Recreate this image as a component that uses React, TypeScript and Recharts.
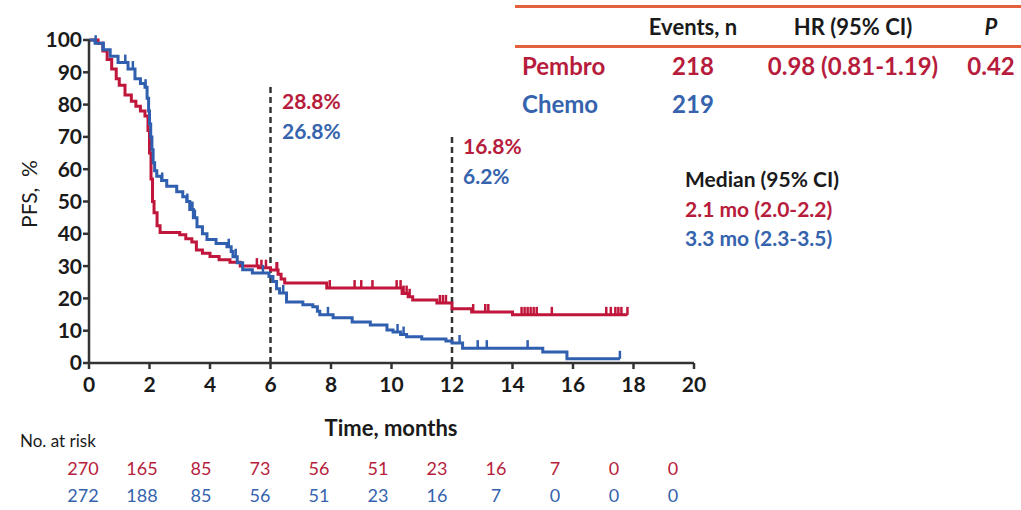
import React from "react";
import {
  ComposedChart,
  Line,
  Scatter,
  XAxis,
  YAxis,
  ReferenceLine,
} from "recharts";

// Kaplan-Meier steps: time (months) and PFS (%)
const pembroTimes = [0, 0.3, 0.46, 0.6, 0.75, 0.9, 1.0, 1.19, 1.4, 1.55, 1.7, 1.85, 1.95, 2.0, 2.05, 2.1, 2.15, 2.25, 2.35, 3.0, 3.2, 3.4, 3.55, 3.75, 4.0, 4.3, 4.66, 5.0, 5.6, 6.0, 6.25, 6.35, 6.47, 7.86, 10.35, 10.55, 10.7, 11.5, 12.0, 12.65, 14.0, 17.8];
const pembroPfs = [100, 99, 96.6, 94, 91, 88, 86, 83, 81, 79.5, 78, 76.5, 72, 65, 57, 50, 46.5, 42.5, 40.4, 39.7, 38.5, 37.5, 35, 34, 33, 32, 31.2, 30, 29.5, 28.8, 27.5, 26, 24.8, 23.2, 21.5, 20.5, 19.5, 18.6, 16.8, 15.8, 14.9, 14.9];

const chemoTimes = [0, 0.2, 0.46, 0.7, 0.96, 1.29, 1.52, 1.7, 1.85, 1.92, 1.97, 2.0, 2.04, 2.08, 2.12, 2.17, 2.24, 2.4, 2.57, 2.9, 3.1, 3.23, 3.33, 3.45, 3.57, 3.75, 3.9, 4.2, 4.56, 4.7, 4.76, 4.9, 5.08, 5.4, 5.95, 6.08, 6.2, 6.3, 6.53, 7.07, 7.4, 7.55, 7.63, 8.07, 8.7, 9.3, 9.85, 10.05, 10.3, 10.5, 11.0, 11.8, 12.0, 12.35, 15.0, 15.8, 17.55];
const chemoPfs = [100, 99, 97, 95, 93, 91, 88, 86.5, 85.4, 82, 78, 74, 70, 66, 62, 59.5, 57.8, 56.5, 54.7, 53, 51.5, 50, 47.5, 45, 42.2, 40, 38.2, 37, 36, 34.5, 32.9, 31, 28.9, 27.9, 26.8, 25.2, 23, 21.7, 18.9, 18, 17.4, 16, 14.9, 14, 12.7, 11.8, 10.2, 9.6, 8.8, 8.1, 7.4, 6.8, 6.2, 4.6, 3.4, 1.3, 1.3];

// censoring times
const pembroCensor = [5.55, 5.7, 5.85, 6.2, 6.22, 7.96, 8.78, 9.0, 9.37, 10.17, 10.3, 10.4, 10.5, 10.6, 11.6, 11.7, 11.8, 12.7, 13.1, 13.2, 14.3, 14.4, 14.5, 14.6, 14.7, 14.8, 15.3, 17.1, 17.25, 17.4, 17.5, 17.6, 17.8];
const chemoCensor = [0.22, 0.48, 1.2, 1.45, 1.87, 2.42, 3.25, 3.36, 3.42, 3.5, 4.62, 4.85, 5.75, 6.42, 7.9, 10.2, 10.4, 12.25, 12.85, 13.15, 14.5, 17.55];

const xTicks = [0, 2, 4, 6, 8, 10, 12, 14, 16, 18, 20];
const yTicks = [0, 10, 20, 30, 40, 50, 60, 70, 80, 90, 100];
const landmarks = [6, 12];
const landmarkTops = [86, 70];

const pembroAtRisk = [270, 165, 85, 73, 56, 51, 23, 16, 7, 0, 0];
const chemoAtRisk = [272, 188, 85, 56, 51, 23, 16, 7, 0, 0, 0];

const RED = "#b71c3c";
const BLUE = "#3563ad";
const LINE_RED = "#c0163b";
const LINE_BLUE = "#2f5fae";
const RULE = "#e2603c";
const FONT = "Lato, 'Open Sans', sans-serif";

function survAt(times: number[], vals: number[], t: number) {
  let v = vals[0];
  for (let i = 0; i < times.length; i++) {
    if (times[i] <= t) v = vals[i];
  }
  return v;
}

const toRows = (times: number[], vals: number[]) =>
  times.map((t, i) => ({ t, s: vals[i] }));

const censorRows = (c: number[], times: number[], vals: number[]) =>
  c.map((t) => ({ t, s: survAt(times, vals, t) }));

const pembroData = toRows(pembroTimes, pembroPfs);
const chemoData = toRows(chemoTimes, chemoPfs);

const tickMark = (color: string) => (props: any) => (
  <line
    x1={props.cx}
    y1={props.cy}
    x2={props.cx}
    y2={props.cy - 8}
    stroke={color}
    strokeWidth={2.5}
  />
);

const txt = (extra: React.CSSProperties): React.CSSProperties => ({
  position: "absolute",
  fontFamily: FONT,
  whiteSpace: "nowrap",
  lineHeight: 1,
  ...extra,
});

export default function App() {
  const atRiskX = (i: number) => 83 + 59 * i;

  return (
    <div
      style={{
        position: "absolute",
        left: 0,
        top: 0,
        width: 1021,
        height: 510,
        background: "#fff",
        overflow: "hidden",
      }}
    >
      <ComposedChart
        width={720}
        height={400}
        margin={{ top: 40, right: 26, bottom: 0, left: 0 }}
        style={{ position: "absolute", left: 0, top: 0 }}
      >
        <XAxis
          dataKey="t"
          type="number"
          domain={[0, 20]}
          ticks={xTicks}
          interval={0}
          height={37}
          tickSize={6}
          tickMargin={8}
          stroke="#333"
          strokeWidth={2.5}
          tick={{ fill: "#1a1a1a", fontSize: 21, fontWeight: 700, fontFamily: FONT }}
          allowDuplicatedCategory={false}
        />
        <YAxis
          dataKey="s"
          type="number"
          domain={[0, 100]}
          ticks={yTicks}
          interval={0}
          width={89}
          tickSize={6}
          tickMargin={1}
          stroke="#333"
          strokeWidth={2.5}
          tick={{ fill: "#1a1a1a", fontSize: 21, fontWeight: 700, fontFamily: FONT }}
        />
        {landmarks.map((m, i) => (
          <ReferenceLine
            key={m}
            segment={[
              { x: m, y: 0 },
              { x: m, y: landmarkTops[i] },
            ]}
            stroke="#333"
            strokeWidth={2.5}
            strokeDasharray="6 4"
          />
        ))}
        <Line
          data={pembroData}
          dataKey="s"
          type="stepAfter"
          stroke={LINE_RED}
          strokeWidth={3}
          dot={false}
          isAnimationActive={false}
        />
        <Line
          data={chemoData}
          dataKey="s"
          type="stepAfter"
          stroke={LINE_BLUE}
          strokeWidth={3}
          dot={false}
          isAnimationActive={false}
        />
        <Scatter
          data={censorRows(pembroCensor, pembroTimes, pembroPfs)}
          dataKey="s"
          shape={tickMark(LINE_RED)}
          isAnimationActive={false}
        />
        <Scatter
          data={censorRows(chemoCensor, chemoTimes, chemoPfs)}
          dataKey="s"
          shape={tickMark(LINE_BLUE)}
          isAnimationActive={false}
        />
      </ComposedChart>

      {/* axis titles */}
      <div
        style={txt({
          left: 28,
          top: 194,
          fontSize: 21,
          color: "#1a1a1a",
          transform: "translate(-50%, -50%) rotate(-90deg)",
        })}
      >
        PFS,&nbsp; %
      </div>
      <div
        style={txt({
          left: 391,
          top: 428,
          fontSize: 22,
          fontWeight: 700,
          color: "#1a1a1a",
          transform: "translate(-50%, -50%)",
        })}
      >
        Time, months
      </div>

      {/* landmark rates */}
      {landmarks.map((m, i) => (
        <React.Fragment key={m}>
          <div style={txt({ left: m === 6 ? 282 : 463, top: m === 6 ? 90 : 135, fontSize: 21, fontWeight: 700, color: RED })}>
            {survAt(pembroTimes, pembroPfs, m).toFixed(1)}%
          </div>
          <div style={txt({ left: m === 6 ? 282 : 463, top: m === 6 ? 120 : 165, fontSize: 21, fontWeight: 700, color: BLUE })}>
            {survAt(chemoTimes, chemoPfs, m).toFixed(1)}%
          </div>
        </React.Fragment>
      ))}

      {/* HR table */}
      <div style={{ position: "absolute", left: 515, top: 5, width: 506, height: 3, background: RULE }} />
      <div style={{ position: "absolute", left: 515, top: 45, width: 506, height: 3, background: RULE }} />
      <div style={txt({ left: 693, top: 27, fontSize: 22, fontWeight: 700, color: "#1a1a1a", transform: "translate(-50%, -50%)" })}>
        Events, n
      </div>
      <div style={txt({ left: 853, top: 27, fontSize: 22, fontWeight: 700, color: "#1a1a1a", transform: "translate(-50%, -50%)" })}>
        HR (95% CI)
      </div>
      <div style={txt({ left: 991, top: 27, fontSize: 22, fontWeight: 700, fontStyle: "italic", color: "#1a1a1a", transform: "translate(-50%, -50%)" })}>
        P
      </div>
      <div style={txt({ left: 522, top: 66, fontSize: 24, fontWeight: 700, color: RED, transform: "translateY(-50%)" })}>
        Pembro
      </div>
      <div style={txt({ left: 693, top: 66, fontSize: 24, fontWeight: 700, color: RED, transform: "translate(-50%, -50%)" })}>
        218
      </div>
      <div style={txt({ left: 853, top: 66, fontSize: 24, fontWeight: 700, color: RED, transform: "translate(-50%, -50%)" })}>
        0.98 (0.81-1.19)
      </div>
      <div style={txt({ left: 991, top: 66, fontSize: 24, fontWeight: 700, color: RED, transform: "translate(-50%, -50%)" })}>
        0.42
      </div>
      <div style={txt({ left: 522, top: 104, fontSize: 24, fontWeight: 700, color: BLUE, transform: "translateY(-50%)" })}>
        Chemo
      </div>
      <div style={txt({ left: 693, top: 104, fontSize: 24, fontWeight: 700, color: BLUE, transform: "translate(-50%, -50%)" })}>
        219
      </div>

      {/* medians */}
      <div style={txt({ left: 685, top: 178, fontSize: 21, fontWeight: 700, color: "#1a1a1a", transform: "translateY(-50%)" })}>
        Median (95% CI)
      </div>
      <div style={txt({ left: 685, top: 208, fontSize: 21, fontWeight: 700, color: RED, transform: "translateY(-50%)" })}>
        2.1 mo (2.0-2.2)
      </div>
      <div style={txt({ left: 685, top: 237, fontSize: 21, fontWeight: 700, color: BLUE, transform: "translateY(-50%)" })}>
        3.3 mo (2.3-3.5)
      </div>

      {/* numbers at risk */}
      <div style={txt({ left: 20, top: 440, fontSize: 17, color: "#1a1a1a", transform: "translateY(-50%)" })}>
        No. at risk
      </div>
      {pembroAtRisk.map((n, i) => (
        <div key={"p" + i} style={txt({ left: atRiskX(i), top: 468, fontSize: 18, color: RED, transform: "translate(-50%, -50%)" })}>
          {n}
        </div>
      ))}
      {chemoAtRisk.map((n, i) => (
        <div key={"c" + i} style={txt({ left: atRiskX(i), top: 495, fontSize: 18, color: BLUE, transform: "translate(-50%, -50%)" })}>
          {n}
        </div>
      ))}
    </div>
  );
}
